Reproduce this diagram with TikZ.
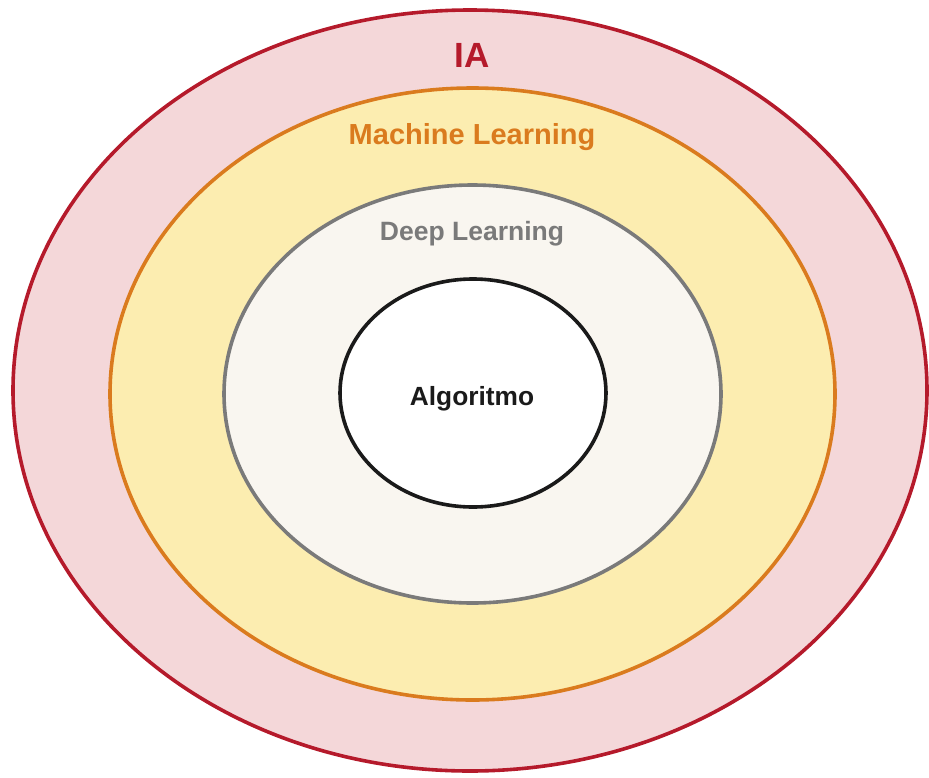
\documentclass[tikz,border=0pt]{standalone}
\usepackage{fontspec}
\setmainfont{Liberation Sans}
\usetikzlibrary{shapes.geometric}
\definecolor{iaLine}{HTML}{B51A2B}
\definecolor{iaFill}{HTML}{F4D7D9}
\definecolor{mlLine}{HTML}{DA7B1E}
\definecolor{mlFill}{HTML}{FCEDB0}
\definecolor{dlLine}{HTML}{7A7A7A}
\definecolor{dlFill}{HTML}{F9F6F0}
\definecolor{alLine}{HTML}{1A1A1A}
\tikzset{
  ring/.style={ellipse, line width=3.6pt, inner sep=0pt},
  tag/.style={font=\bfseries, inner sep=0pt}
}
\begin{document}
\begin{tikzpicture}[x=1pt, y=-1pt]
  \useasboundingbox (0,0) rectangle (929,777);
  % nested sets, outermost first
  \node[ring, draw=iaLine, fill=iaFill, minimum width=914pt, minimum height=761pt] (ia) at (470,390.5) {};
  \node[ring, draw=mlLine, fill=mlFill, minimum width=725pt, minimum height=612pt] (ml) at (472.5,394) {};
  \node[ring, draw=dlLine, fill=dlFill, minimum width=497pt, minimum height=418pt] (dl) at (472.5,394) {};
  \node[ring, draw=alLine, fill=white, minimum width=266pt, minimum height=228pt] (al) at (473,393) {};
  % labels
  \node[tag, text=iaLine, font=\fontsize{35}{40}\selectfont\bfseries] (iaText) at (472,55) {IA};
  \node[tag, text=mlLine, font=\fontsize{29}{34}\selectfont\bfseries] (mlText) at (472,137.5) {Machine Learning};
  \node[tag, text=dlLine, font=\fontsize{26.5}{31}\selectfont\bfseries] (dlText) at (472,234) {Deep Learning};
  \node[tag, text=alLine, font=\fontsize{26.3}{31}\selectfont\bfseries] (alText) at (472,399) {Algoritmo};
\end{tikzpicture}
\end{document}
